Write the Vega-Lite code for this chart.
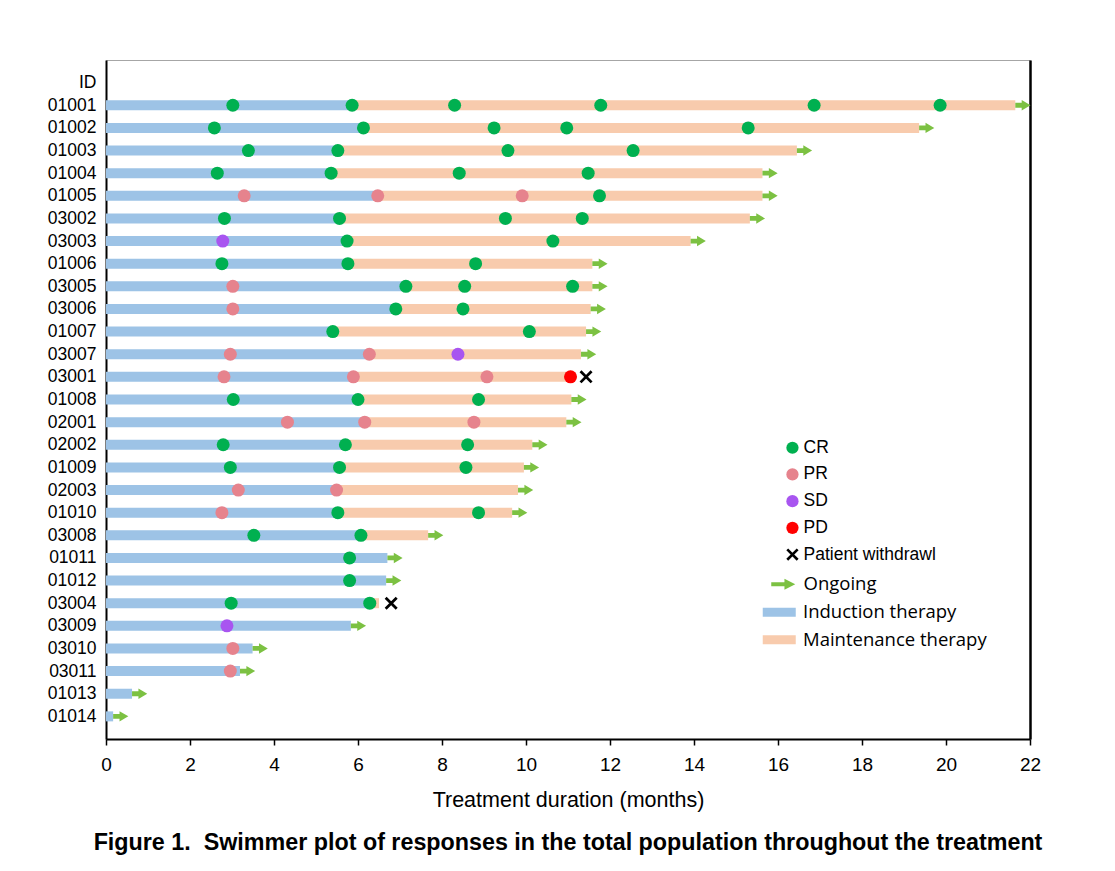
{
  "$schema": "https://vega.github.io/schema/vega-lite/v6.json",
  "width": 924,
  "height": 679,
  "autosize": {"type": "none"},
  "padding": {"left": 106, "top": 60, "right": 85, "bottom": 132},
  "background": "white",
  "title": {
    "text": "Figure 1.\u00a0 Swimmer plot of responses in the total population throughout the treatment",
    "orient": "bottom",
    "anchor": "middle",
    "font": "Liberation Sans",
    "fontSize": 23.3,
    "fontWeight": "bold",
    "color": "#000000",
    "offset": 21
  },
  "config": {
    "view": {"stroke": "#a6a6a6", "strokeWidth": 1},
    "axis": {"grid": false},
    "legend": {"titleFontSize": 0, "labelLimit": 400}
  },
  "datasets": {
    "bars": [
      {"id": "01001", "phase": "Induction therapy", "start": 0, "end": 5.9},
      {"id": "01001", "phase": "Maintenance therapy", "start": 5.9, "end": 21.65},
      {"id": "01002", "phase": "Induction therapy", "start": 0, "end": 6.15},
      {"id": "01002", "phase": "Maintenance therapy", "start": 6.15, "end": 19.36},
      {"id": "01003", "phase": "Induction therapy", "start": 0, "end": 5.6},
      {"id": "01003", "phase": "Maintenance therapy", "start": 5.6, "end": 16.45},
      {"id": "01004", "phase": "Induction therapy", "start": 0, "end": 5.4},
      {"id": "01004", "phase": "Maintenance therapy", "start": 5.4, "end": 15.63},
      {"id": "01005", "phase": "Induction therapy", "start": 0, "end": 6.5},
      {"id": "01005", "phase": "Maintenance therapy", "start": 6.5, "end": 15.63},
      {"id": "03002", "phase": "Induction therapy", "start": 0, "end": 5.6},
      {"id": "03002", "phase": "Maintenance therapy", "start": 5.6, "end": 15.33},
      {"id": "03003", "phase": "Induction therapy", "start": 0, "end": 5.7},
      {"id": "03003", "phase": "Maintenance therapy", "start": 5.7, "end": 13.92},
      {"id": "01006", "phase": "Induction therapy", "start": 0, "end": 5.75},
      {"id": "01006", "phase": "Maintenance therapy", "start": 5.75, "end": 11.58},
      {"id": "03005", "phase": "Induction therapy", "start": 0, "end": 7.15},
      {"id": "03005", "phase": "Maintenance therapy", "start": 7.15, "end": 11.58},
      {"id": "03006", "phase": "Induction therapy", "start": 0, "end": 6.9},
      {"id": "03006", "phase": "Maintenance therapy", "start": 6.9, "end": 11.54},
      {"id": "01007", "phase": "Induction therapy", "start": 0, "end": 5.4},
      {"id": "01007", "phase": "Maintenance therapy", "start": 5.4, "end": 11.43},
      {"id": "03007", "phase": "Induction therapy", "start": 0, "end": 6.2},
      {"id": "03007", "phase": "Maintenance therapy", "start": 6.2, "end": 11.31},
      {"id": "03001", "phase": "Induction therapy", "start": 0, "end": 5.9},
      {"id": "03001", "phase": "Maintenance therapy", "start": 5.9, "end": 10.98},
      {"id": "01008", "phase": "Induction therapy", "start": 0, "end": 6.0},
      {"id": "01008", "phase": "Maintenance therapy", "start": 6.0, "end": 11.08},
      {"id": "02001", "phase": "Induction therapy", "start": 0, "end": 6.15},
      {"id": "02001", "phase": "Maintenance therapy", "start": 6.15, "end": 10.96},
      {"id": "02002", "phase": "Induction therapy", "start": 0, "end": 5.7},
      {"id": "02002", "phase": "Maintenance therapy", "start": 5.7, "end": 10.15},
      {"id": "01009", "phase": "Induction therapy", "start": 0, "end": 5.6},
      {"id": "01009", "phase": "Maintenance therapy", "start": 5.6, "end": 9.95},
      {"id": "02003", "phase": "Induction therapy", "start": 0, "end": 5.5},
      {"id": "02003", "phase": "Maintenance therapy", "start": 5.5, "end": 9.81},
      {"id": "01010", "phase": "Induction therapy", "start": 0, "end": 5.55},
      {"id": "01010", "phase": "Maintenance therapy", "start": 5.55, "end": 9.67},
      {"id": "03008", "phase": "Induction therapy", "start": 0, "end": 6.1},
      {"id": "03008", "phase": "Maintenance therapy", "start": 6.1, "end": 7.67},
      {"id": "01011", "phase": "Induction therapy", "start": 0, "end": 6.7},
      {"id": "01012", "phase": "Induction therapy", "start": 0, "end": 6.67},
      {"id": "03004", "phase": "Induction therapy", "start": 0, "end": 6.35},
      {"id": "03004", "phase": "Maintenance therapy", "start": 6.35, "end": 6.5},
      {"id": "03009", "phase": "Induction therapy", "start": 0, "end": 5.83},
      {"id": "03010", "phase": "Induction therapy", "start": 0, "end": 3.49},
      {"id": "03011", "phase": "Induction therapy", "start": 0, "end": 3.19},
      {"id": "01013", "phase": "Induction therapy", "start": 0, "end": 0.62},
      {"id": "01014", "phase": "Induction therapy", "start": 0, "end": 0.17}
    ],
    "events": [
      {"id": "01001", "t": 3.02, "event": "CR"},
      {"id": "01001", "t": 5.86, "event": "CR"},
      {"id": "01001", "t": 8.3, "event": "CR"},
      {"id": "01001", "t": 11.78, "event": "CR"},
      {"id": "01001", "t": 16.86, "event": "CR"},
      {"id": "01001", "t": 19.86, "event": "CR"},
      {"id": "01002", "t": 2.58, "event": "CR"},
      {"id": "01002", "t": 6.13, "event": "CR"},
      {"id": "01002", "t": 9.24, "event": "CR"},
      {"id": "01002", "t": 10.97, "event": "CR"},
      {"id": "01002", "t": 15.29, "event": "CR"},
      {"id": "01003", "t": 3.39, "event": "CR"},
      {"id": "01003", "t": 5.52, "event": "CR"},
      {"id": "01003", "t": 9.57, "event": "CR"},
      {"id": "01003", "t": 12.55, "event": "CR"},
      {"id": "01004", "t": 2.65, "event": "CR"},
      {"id": "01004", "t": 5.36, "event": "CR"},
      {"id": "01004", "t": 8.41, "event": "CR"},
      {"id": "01004", "t": 11.48, "event": "CR"},
      {"id": "01005", "t": 3.29, "event": "PR"},
      {"id": "01005", "t": 6.47, "event": "PR"},
      {"id": "01005", "t": 9.91, "event": "PR"},
      {"id": "01005", "t": 11.75, "event": "CR"},
      {"id": "03002", "t": 2.82, "event": "CR"},
      {"id": "03002", "t": 5.56, "event": "CR"},
      {"id": "03002", "t": 9.51, "event": "CR"},
      {"id": "03002", "t": 11.34, "event": "CR"},
      {"id": "03003", "t": 2.78, "event": "SD"},
      {"id": "03003", "t": 5.74, "event": "CR"},
      {"id": "03003", "t": 10.64, "event": "CR"},
      {"id": "01006", "t": 2.76, "event": "CR"},
      {"id": "01006", "t": 5.76, "event": "CR"},
      {"id": "01006", "t": 8.8, "event": "CR"},
      {"id": "03005", "t": 3.02, "event": "PR"},
      {"id": "03005", "t": 7.14, "event": "CR"},
      {"id": "03005", "t": 8.54, "event": "CR"},
      {"id": "03005", "t": 11.11, "event": "CR"},
      {"id": "03006", "t": 3.02, "event": "PR"},
      {"id": "03006", "t": 6.9, "event": "CR"},
      {"id": "03006", "t": 8.5, "event": "CR"},
      {"id": "01007", "t": 5.4, "event": "CR"},
      {"id": "01007", "t": 10.08, "event": "CR"},
      {"id": "03007", "t": 2.96, "event": "PR"},
      {"id": "03007", "t": 6.27, "event": "PR"},
      {"id": "03007", "t": 8.38, "event": "SD"},
      {"id": "03001", "t": 2.81, "event": "PR"},
      {"id": "03001", "t": 5.89, "event": "PR"},
      {"id": "03001", "t": 9.07, "event": "PR"},
      {"id": "03001", "t": 11.06, "event": "PD"},
      {"id": "03001", "t": 11.43, "event": "Patient withdrawl"},
      {"id": "01008", "t": 3.03, "event": "CR"},
      {"id": "01008", "t": 6.0, "event": "CR"},
      {"id": "01008", "t": 8.87, "event": "CR"},
      {"id": "02001", "t": 4.32, "event": "PR"},
      {"id": "02001", "t": 6.16, "event": "PR"},
      {"id": "02001", "t": 8.76, "event": "PR"},
      {"id": "02002", "t": 2.79, "event": "CR"},
      {"id": "02002", "t": 5.7, "event": "CR"},
      {"id": "02002", "t": 8.61, "event": "CR"},
      {"id": "01009", "t": 2.96, "event": "CR"},
      {"id": "01009", "t": 5.56, "event": "CR"},
      {"id": "01009", "t": 8.57, "event": "CR"},
      {"id": "02003", "t": 3.15, "event": "PR"},
      {"id": "02003", "t": 5.49, "event": "PR"},
      {"id": "01010", "t": 2.76, "event": "PR"},
      {"id": "01010", "t": 5.52, "event": "CR"},
      {"id": "01010", "t": 8.87, "event": "CR"},
      {"id": "03008", "t": 3.52, "event": "CR"},
      {"id": "03008", "t": 6.07, "event": "CR"},
      {"id": "01011", "t": 5.8, "event": "CR"},
      {"id": "01012", "t": 5.8, "event": "CR"},
      {"id": "03004", "t": 2.98, "event": "CR"},
      {"id": "03004", "t": 6.28, "event": "CR"},
      {"id": "03004", "t": 6.79, "event": "Patient withdrawl"},
      {"id": "03009", "t": 2.88, "event": "SD"},
      {"id": "03010", "t": 3.02, "event": "PR"},
      {"id": "03011", "t": 2.96, "event": "PR"}
    ],
    "arrows": [
      {"id": "01001", "t": 21.65, "status": "Ongoing"},
      {"id": "01002", "t": 19.36, "status": "Ongoing"},
      {"id": "01003", "t": 16.45, "status": "Ongoing"},
      {"id": "01004", "t": 15.63, "status": "Ongoing"},
      {"id": "01005", "t": 15.63, "status": "Ongoing"},
      {"id": "03002", "t": 15.33, "status": "Ongoing"},
      {"id": "03003", "t": 13.92, "status": "Ongoing"},
      {"id": "01006", "t": 11.58, "status": "Ongoing"},
      {"id": "03005", "t": 11.58, "status": "Ongoing"},
      {"id": "03006", "t": 11.54, "status": "Ongoing"},
      {"id": "01007", "t": 11.43, "status": "Ongoing"},
      {"id": "03007", "t": 11.31, "status": "Ongoing"},
      {"id": "01008", "t": 11.08, "status": "Ongoing"},
      {"id": "02001", "t": 10.96, "status": "Ongoing"},
      {"id": "02002", "t": 10.15, "status": "Ongoing"},
      {"id": "01009", "t": 9.95, "status": "Ongoing"},
      {"id": "02003", "t": 9.81, "status": "Ongoing"},
      {"id": "01010", "t": 9.67, "status": "Ongoing"},
      {"id": "03008", "t": 7.67, "status": "Ongoing"},
      {"id": "01011", "t": 6.7, "status": "Ongoing"},
      {"id": "01012", "t": 6.67, "status": "Ongoing"},
      {"id": "03009", "t": 5.83, "status": "Ongoing"},
      {"id": "03010", "t": 3.49, "status": "Ongoing"},
      {"id": "03011", "t": 3.19, "status": "Ongoing"},
      {"id": "01013", "t": 0.62, "status": "Ongoing"},
      {"id": "01014", "t": 0.17, "status": "Ongoing"}
    ]
  },
  "resolve": {"axis": {"y": "independent"}},
  "layer": [
    {
      "data": {"name": "bars"},
      "mark": {"type": "bar", "height": 10, "cornerRadius": 0},
      "encoding": {
        "y": {
          "field": "id", "type": "nominal", "sort": null,
          "scale": {"type": "point", "padding": 1, "domain": ["ID","01001","01002","01003","01004","01005","03002","03003","01006","03005","03006","01007","03007","03001","01008","02001","02002","01009","02003","01010","03008","01011","01012","03004","03009","03010","03011","01013","01014"]},
          "axis": {"title": null, "orient": "left", "labelFont": "Liberation Sans", "labelFontSize": 17.5, "labelColor": "#000000", "ticks": false, "tickSize": 0, "labelPadding": 10, "domainColor": "#000000", "domainWidth": 2}
        },
        "x": {
          "field": "start", "type": "quantitative",
          "scale": {"domain": [0, 22], "nice": false, "zero": true},
          "axis": {"title": "Treatment duration (months)", "values": [0,2,4,6,8,10,12,14,16,18,20,22], "labelFlush": false, "labelFont": "Liberation Sans", "labelFontSize": 19, "labelColor": "#000000", "labelPadding": 10, "tickSize": 6, "tickColor": "#000000", "tickWidth": 1.5, "domainColor": "#000000", "domainWidth": 2, "titleFont": "Liberation Sans", "titleFontSize": 21.5, "titleFontWeight": "normal", "titleColor": "#000000", "titlePadding": 15}
        },
        "x2": {"field": "end"},
        "fill": {
          "field": "phase", "type": "nominal",
          "scale": {"domain": ["Induction therapy", "Maintenance therapy"], "range": ["#9dc3e6", "#f8cbad"]},
          "legend": {"title": null, "orient": "none", "legendX": 664, "legendY": 543, "symbolType": "M-5.5,-1.5L5.5,-1.5L5.5,1.5L-5.5,1.5Z", "symbolSize": 36, "symbolStrokeWidth": 0, "labelOffset": 14.5, "rowPadding": 8.5, "labelFont": "Open Sans", "labelFontSize": 18.5, "labelColor": "#000000", "labelLimit": 400}
        }
      }
    },
    {
      "data": {"name": "events"},
      "mark": {"type": "point", "filled": true, "size": 169, "opacity": 1},
      "encoding": {
        "y": {"field": "id", "type": "nominal", "sort": null, "axis": null},
        "x": {"field": "t", "type": "quantitative"},
        "color": {
          "field": "event", "type": "nominal",
          "scale": {"domain": ["CR", "PR", "SD", "PD", "Patient withdrawl"], "range": ["#00b050", "#e6838d", "#a855f0", "#ff0000", "#000000"]},
          "legend": {"title": null, "orient": "none", "legendX": 677.7, "legendY": 379, "symbolSize": 150, "labelOffset": 2.3, "rowPadding": 7.7, "labelFont": "Liberation Sans", "labelFontSize": 17.5, "labelColor": "#000000", "symbolStrokeWidth": 0, "labelLimit": 400}
        },
        "shape": {
          "field": "event", "type": "nominal",
          "scale": {"domain": ["CR", "PR", "SD", "PD", "Patient withdrawl"], "range": ["circle", "circle", "circle", "circle", "M-1,-0.7L-0.7,-1L1,0.7L0.7,1ZM0.7,-1L1,-0.7L-0.7,1L-1,0.7Z"]},
          "legend": {"title": null, "orient": "none", "legendX": 677.7, "legendY": 379, "symbolSize": 150, "labelOffset": 2.3, "rowPadding": 7.7, "labelFont": "Liberation Sans", "labelFontSize": 17.5, "labelColor": "#000000", "symbolStrokeWidth": 0, "labelLimit": 400}
        }
      }
    },
    {
      "data": {"name": "arrows"},
      "mark": {"type": "point", "filled": true, "fill": "#7cc142", "strokeWidth": 0, "size": 64, "opacity": 1, "shape": "M0,-0.6L1.6,-0.6L1.6,-1.3L3.8,0L1.6,1.3L1.6,0.6L0,0.6Z"},
      "encoding": {
        "y": {"field": "id", "type": "nominal", "sort": null,
          "axis": {"orient": "right", "title": null, "labels": false, "ticks": false, "domainColor": "#000000", "domainWidth": 2.5}},
        "x": {"field": "t", "type": "quantitative"},
        "stroke": {
          "field": "status", "type": "nominal",
          "scale": {"domain": ["Ongoing"], "range": ["#7cc142"]},
          "legend": {"title": null, "orient": "none", "legendX": 668, "legendY": 515, "symbolType": "M-2,-0.35L0.2,-0.35L0.2,-0.9L2,0L0.2,0.9L0.2,0.35L-2,0.35Z", "symbolSize": 144, "symbolFillColor": "#7cc142", "labelOffset": 11, "labelFont": "Open Sans", "labelFontSize": 18.5, "labelColor": "#000000", "symbolStrokeWidth": 0, "labelLimit": 400}
        }
      }
    }
  ]
}
